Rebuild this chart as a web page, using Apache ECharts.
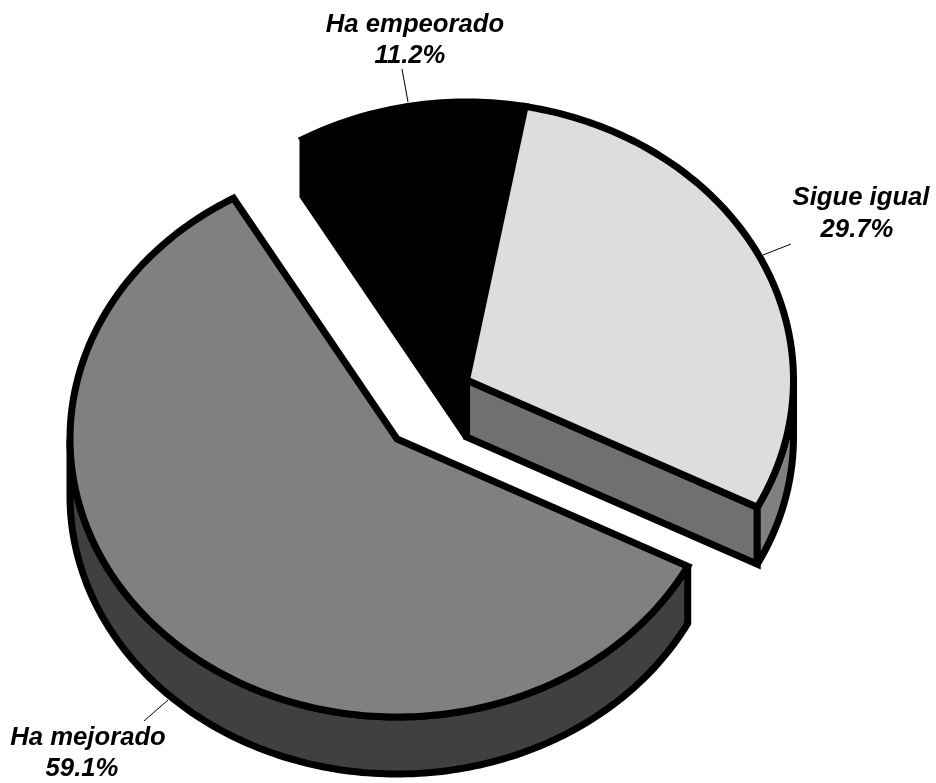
<!DOCTYPE html>
<html><head><meta charset="utf-8">
<style>html,body{margin:0;padding:0;background:#fff}#c{width:936px;height:783px}</style>
<script src="https://cdn.jsdelivr.net/npm/echarts@6/dist/echarts.min.js"></script>
</head><body><div id="c"></div>
<script>
const categories = ['Ha empeorado', 'Sigue igual', 'Ha mejorado'];
const shares = [11.2, 29.7, 59.1];

const topColors = ['#000000', '#dddddd', '#808080'];
const cutColors = ['#000000', '#707070', '#404040'];
const wallColors = ['#000000', '#808080', '#404040'];
const centers = [[466.5, 380], [466.5, 380], [397, 439]];
const nameAt = [[415, 25], [861, 198], [88, 738]];
const pctAt = [[410, 56], [857, 230], [82, 769]];
const leaders = [[[402, 69], [408, 102]], [[791, 244], [763, 255]], [[144, 721], [168, 700]]];
const RX = 327, RY = 278, DEPTH = 57, START = 330, LINE = 7;
const FONT = 'italic bold 25.7px "Liberation Sans", Arial, sans-serif';

const total = shares.reduce((a, b) => a + b, 0);
function pt(c, deg, dz) {
  const r = deg * Math.PI / 180;
  return [c[0] + RX * Math.sin(r), c[1] - RY * Math.cos(r) + (dz || 0)];
}
function arc(c, a, b, dz) {
  const n = Math.max(2, Math.ceil(Math.abs(b - a))), out = [];
  for (let i = 0; i <= n; i++) out.push(pt(c, a + (b - a) * i / n, dz));
  return out;
}
function poly(points, fill) {
  return { type: 'polygon', shape: { points }, silent: true,
    style: { fill, stroke: '#000', lineWidth: LINE, lineJoin: 'miter', miterLimit: 2.5 } };
}
function label(text, at) {
  return { type: 'text', silent: true, x: at[0], y: at[1],
    style: { text, align: 'center', verticalAlign: 'middle', font: FONT, fill: '#000' } };
}
function renderItem(params, api) {
  const i = params.dataIndex, v = api.value(0), c = centers[i];
  let before = 0;
  for (let k = 0; k < i; k++) before += shares[k];
  const s = START + before / total * 360, e = s + v / total * 360;
  const kids = [];
  const sinS = Math.sin(s * Math.PI / 180), sinE = Math.sin(e * Math.PI / 180);
  const bottom = [c[0], c[1] + DEPTH];
  // cut faces
  if (sinE > 0) kids.push(poly([c, pt(c, e), pt(c, e, DEPTH), bottom], cutColors[i]));
  if (sinS < 0) kids.push(poly([c, pt(c, s), pt(c, s, DEPTH), bottom], cutColors[i]));
  // outer wall, in the front half of the ellipse (90..270, also +360)
  [0, 360].forEach(off => {
    const a = Math.max(s, 90 + off), b = Math.min(e, 270 + off);
    if (b > a) kids.push(poly(arc(c, a, b, 0).concat(arc(c, b, a, DEPTH)), wallColors[i]));
  });
  // top face
  kids.push(poly([c].concat(arc(c, s, e, 0)), topColors[i]));
  // leader line and labels
  kids.push({ type: 'line', silent: true,
    shape: { x1: leaders[i][0][0], y1: leaders[i][0][1], x2: leaders[i][1][0], y2: leaders[i][1][1] },
    style: { stroke: '#000', lineWidth: 1 } });
  kids.push(label(categories[i], nameAt[i]));
  kids.push(label(v.toFixed(1) + '%', pctAt[i]));
  return { type: 'group', children: kids };
}
const chart = echarts.init(document.getElementById('c'), null, { renderer: 'canvas' });
chart.setOption({
  animation: false,
  backgroundColor: '#fff',
  series: [{ type: 'custom', coordinateSystem: 'none', renderItem,
    data: shares.map(v => [v]) }]
});
</script></body></html>
